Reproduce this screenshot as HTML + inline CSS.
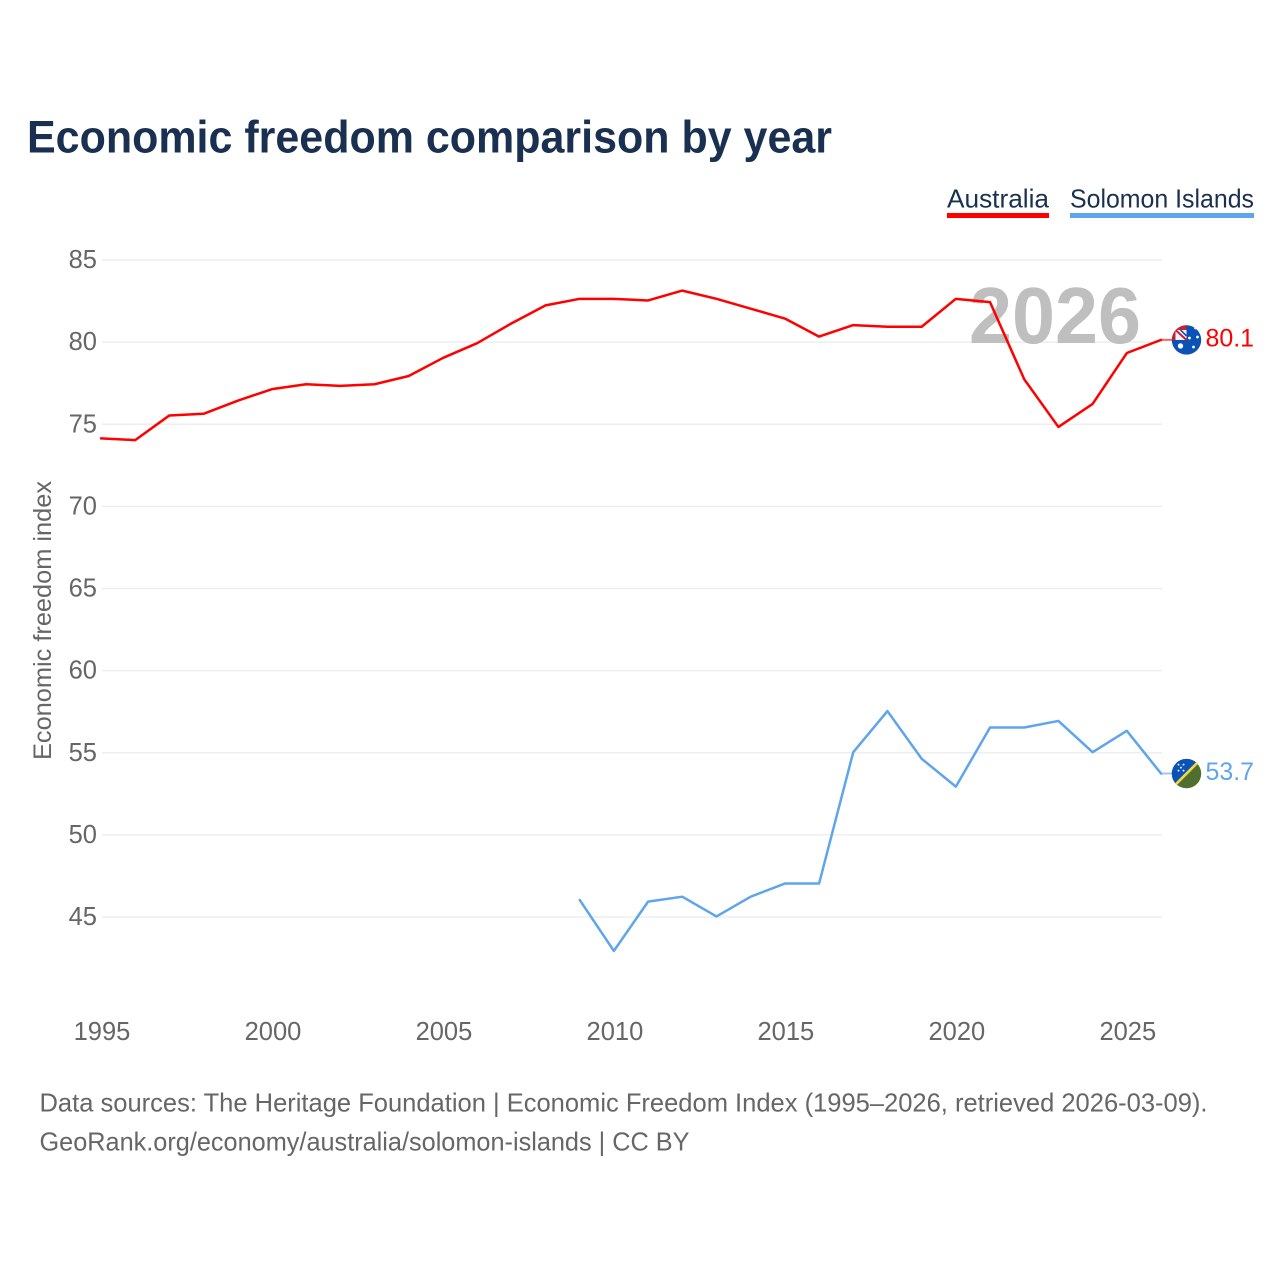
<!DOCTYPE html>
<html>
<head>
<meta charset="utf-8">
<title>Economic freedom comparison by year</title>
<style>
html,body{margin:0;padding:0;background:#fff;}
svg{display:block;font-family:"Liberation Sans",sans-serif;}
</style>
</head>
<body>
<svg id="chart" xmlns="http://www.w3.org/2000/svg" width="1280" height="1280" viewBox="0 0 1280 1280">
  <rect x="0" y="0" width="1280" height="1280" fill="#ffffff"/>
  <text x="27" y="152.5" font-size="45" font-weight="700" fill="#1a3050" textLength="805" lengthAdjust="spacingAndGlyphs">Economic freedom comparison by year</text>

  <g>
    <text x="947" y="207.5" font-size="26" fill="#1a3050" textLength="102" lengthAdjust="spacingAndGlyphs">Australia</text>
    <rect x="947" y="213" width="102" height="5" fill="#ff0000"/>
  </g>
  <g>
    <text x="1070" y="207.5" font-size="26" fill="#1a3050" textLength="184" lengthAdjust="spacingAndGlyphs">Solomon Islands</text>
    <rect x="1070" y="213" width="184" height="5" fill="#5fa5ec"/>
  </g>

  <g id="grid"></g>
  <g id="yticks"></g>
  <g id="xticks"></g>

  <text transform="translate(51,620.5) rotate(-90)" text-anchor="middle" font-size="25" fill="#666666" textLength="279" lengthAdjust="spacingAndGlyphs">Economic freedom index</text>

  <text x="969" y="343" font-size="80" font-weight="700" fill="#bfbfbf" textLength="172" lengthAdjust="spacingAndGlyphs">2026</text>

  <g id="series" transform="translate(-1,-0.6)"></g>

  <defs>
    <clipPath id="flag-clip"><circle cx="0" cy="0" r="14.7"/></clipPath>
  </defs>
  <g id="flag-au">
    <g clip-path="url(#flag-clip)">
      <rect x="-16" y="-16" width="32" height="32" fill="#0a52b5"/>
      <rect x="-16" y="-16" width="16" height="16" fill="#c8202f"/>
      <rect x="-11" y="-10" width="11" height="10" fill="#f4f4f8"/>
      <path d="M-11-10L0 0" stroke="#c8202f" stroke-width="2"/>
      <path d="M-6-10L0-4" stroke="#0a52b5" stroke-width="1.6"/>
      <circle cx="-6" cy="6" r="2.7" fill="#fff"/>
      <circle cx="9" cy="-12" r="1.4" fill="#fff"/>
      <circle cx="11" cy="-3" r="1.4" fill="#fff"/>
      <circle cx="3" cy="-2" r="1.4" fill="#fff"/>
      <circle cx="7" cy="7" r="1.4" fill="#fff"/>
    </g>
  </g>
  <g id="flag-sb">
    <g clip-path="url(#flag-clip)">
      <rect x="-16" y="-16" width="32" height="32" fill="#4f6f2e"/>
      <path d="M-16-16H16L-16 16Z" fill="#0a52b5"/>
      <path d="M-16 16L16-16" stroke="#f7d842" stroke-width="2.6"/>
      <circle cx="-8" cy="-9" r="1" fill="#dfe8f5"/>
      <circle cx="-3" cy="-9" r="1" fill="#dfe8f5"/>
      <circle cx="-8" cy="-3" r="1" fill="#dfe8f5"/>
      <circle cx="-3" cy="-3" r="1" fill="#dfe8f5"/>
      <circle cx="-5.5" cy="-6" r="1" fill="#dfe8f5"/>
    </g>
  </g>
  <text id="label-au" x="1205.5" font-size="25" fill="#ff0000" textLength="48.5" lengthAdjust="spacingAndGlyphs"></text>
  <text id="label-sb" x="1205.5" font-size="25" fill="#5fa5ec" textLength="48.5" lengthAdjust="spacingAndGlyphs"></text>

  <text x="39.5" y="1111.5" font-size="26" fill="#666666" textLength="1168" lengthAdjust="spacingAndGlyphs">Data sources: The Heritage Foundation | Economic Freedom Index (1995–2026, retrieved 2026-03-09).</text>
  <text x="39.5" y="1150.5" font-size="26" fill="#666666" textLength="650" lengthAdjust="spacingAndGlyphs">GeoRank.org/economy/australia/solomon-islands | CC BY</text>
</svg>
<script>
var yTickValues = [45, 50, 55, 60, 65, 70, 75, 80, 85];
var xTickValues = [1995, 2000, 2005, 2010, 2015, 2020, 2025];
var australiaYears = [1995,1996,1997,1998,1999,2000,2001,2002,2003,2004,2005,2006,2007,2008,2009,2010,2011,2012,2013,2014,2015,2016,2017,2018,2019,2020,2021,2022,2023,2024,2025,2026];
var australiaValues = [74.1,74.0,75.5,75.6,76.4,77.1,77.4,77.3,77.4,77.9,79.0,79.9,81.1,82.2,82.6,82.6,82.5,83.1,82.6,82.0,81.4,80.3,81.0,80.9,80.9,82.6,82.4,77.7,74.8,76.2,79.3,80.1];
var solomonYears = [2009,2010,2011,2012,2013,2014,2015,2016,2017,2018,2019,2020,2021,2022,2023,2024,2025,2026];
var solomonValues = [46.0,42.9,45.9,46.2,45.0,46.2,47.0,47.0,55.0,57.5,54.6,52.9,56.5,56.5,56.9,55.0,56.3,53.7];

function xScale(year) { return 102 + (year - 1995) * (1162 - 102) / (2026 - 1995); }
function yScale(v) { return 260 + (85 - v) * (917 - 260) / (85 - 45); }

var NS = 'http://www.w3.org/2000/svg';
function make(tag, parent, attrs) {
  var el = document.createElementNS(NS, tag);
  for (var k in attrs) { el.setAttribute(k, attrs[k]); }
  parent.appendChild(el);
  return el;
}

var grid = document.getElementById('grid');
var yticks = document.getElementById('yticks');
var xticks = document.getElementById('xticks');
yTickValues.forEach(function (v) {
  var line = make('line', grid, {x1: 102, x2: 1162, y1: yScale(v), y2: yScale(v), stroke: '#eeeeee', 'stroke-width': 1.6});
  
  
  var t = make('text', yticks, {x: 97, y: yScale(v) + 8, 'text-anchor': 'end', 'font-size': 25.5, fill: '#666666'});
  
  
  t.textContent = v;
});
xTickValues.forEach(function (y) {
  var t = make('text', xticks, {x: xScale(y), y: 1040, 'text-anchor': 'middle', 'font-size': 25.5, fill: '#666666'});
  
  
  t.textContent = y;
});

var seriesGroup = document.getElementById('series');
function drawSeries(years, values, color, name) {
  var pts = years.map(function (y, i) { return xScale(y).toFixed(2) + ',' + yScale(values[i]).toFixed(2); });
  var lastY = yScale(values[values.length - 1]);
  var conn = make('line', seriesGroup, {x1: xScale(years[years.length - 1]), x2: 1175, y1: lastY, y2: lastY, stroke: color, 'stroke-width': 2, opacity: 0.6});
  
  
  var line = make('polyline', seriesGroup, {points: pts.join(' '), fill: 'none', stroke: color, 'stroke-width': 2.5, 'stroke-linejoin': 'round', 'stroke-linecap': 'round'});
  
  
}
drawSeries(australiaYears, australiaValues, '#ff0000', 'australia-line');
drawSeries(solomonYears, solomonValues, '#5fa5ec', 'solomon-islands-line');

function placeEnd(flagId, labelId, values) {
  var v = values[values.length - 1];
  var y = yScale(v);
  document.getElementById(flagId).setAttribute('transform', 'translate(1186.5,' + (y - 0.5).toFixed(2) + ')');
  var lab = document.getElementById(labelId);
  lab.setAttribute('y', (y + 6).toFixed(2));
  lab.textContent = v.toFixed(1);
}
placeEnd('flag-au', 'label-au', australiaValues);
placeEnd('flag-sb', 'label-sb', solomonValues);
</script>
</body>
</html>
